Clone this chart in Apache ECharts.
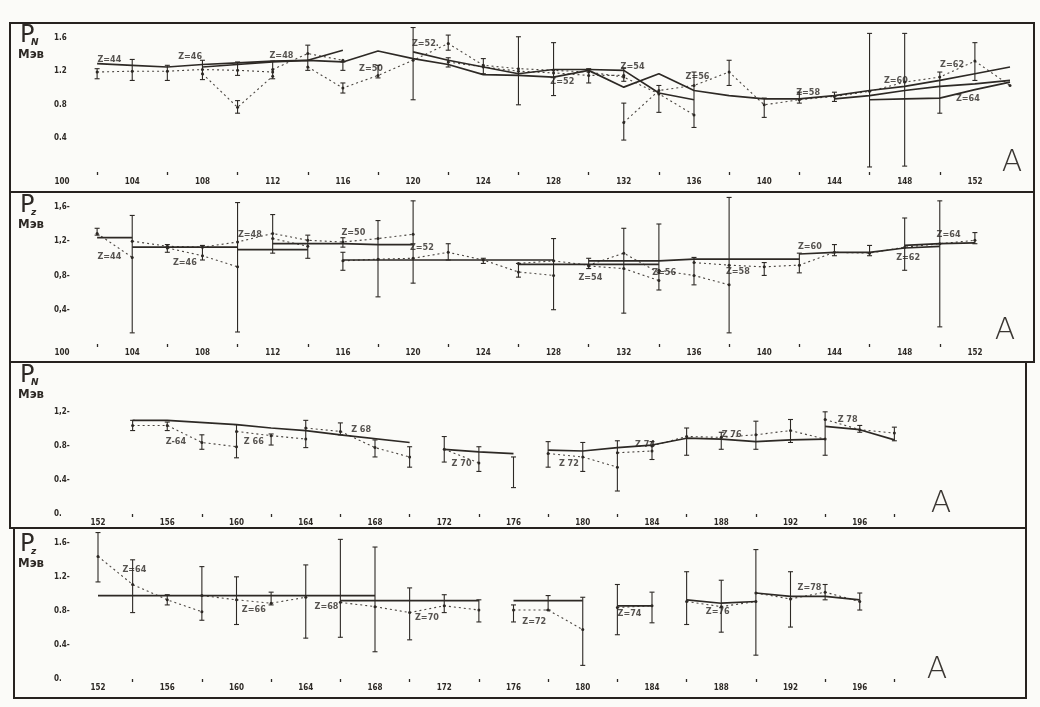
<!DOCTYPE html>
<html><head><meta charset="utf-8">
<script src="https://cdn.jsdelivr.net/npm/echarts@6/dist/echarts.min.js"></script>
<style>html,body{margin:0;padding:0;background:#fbfbf8}#c{width:1040px;height:707px}</style>
</head><body><div id="c"></div>
<script>
// ---------- tick labels ----------
const xTicksA = [100,104,108,112,116,120,124,128,132,136,140,144,148,152];
const xMinorA = [102,106,110,114,118,122,126,130,134,138,142,146,150];
const xTicksB = [152,156,160,164,168,172,176,180,184,188,192,196];
const xMinorB = [154,158,162,166,170,174,178,182,186,190,194,198];
const p1YTicks = [0.4,0.8,1.2,1.6], p1YLabels = ['0.4','0.8','1.2','1.6'];
const p2YTicks = [0.4,0.8,1.2,1.6], p2YLabels = ['0,4-','0,8-','1,2-','1,6-'];
const p3YTicks = [0,0.4,0.8,1.2],   p3YLabels = ['0.','0.4-','0.8-','1,2-'];
const p4YTicks = [0,0.4,0.8,1.2,1.6], p4YLabels = ['0.','0.4-','0.8-','1.2-','1.6-'];

// ---------- panel 1 (P_N, Z = 44..64) ----------
const p1Solid = [
  [[102,1.29],[104,1.27],[106,1.25],[108,1.28],[110,1.30],[112,1.32],[114,1.33],[116,1.45]],
  [[108,1.25],[110,1.28],[112,1.31],[114,1.33],[116,1.31],[118,1.44],[120,1.35],[122,1.28],[124,1.16],[126,1.15],[128,1.13],[130,1.21],[132,1.01],[134,1.17],[136,0.97],[138,0.91],[140,0.87],[142,0.87],[144,0.91],[146,0.97],[148,1.02],[150,1.09],[152,1.17],[154,1.25]],
  [[120,1.43],[122,1.33],[124,1.25],[126,1.17],[128,1.22],[130,1.22],[132,1.21],[134,0.94],[136,0.86]],
  [[144,0.87],[146,0.91],[148,0.97],[150,1.02],[152,1.05],[154,1.09]],
  [[146,0.86],[148,0.87],[150,0.88],[152,0.98],[154,1.07]]
];
const p1Dashed = [
  [[102,1.19],[104,1.20],[106,1.20],[108,1.22],[110,1.21],[112,1.19]],
  [[108,1.17],[110,0.77],[112,1.14]],
  [[112,1.22],[114,1.41],[116,1.33]],
  [[114,1.25],[116,1.00],[118,1.15],[120,1.33],[122,1.53],[124,1.27],[126,1.23],[128,1.21],[130,1.19],[132,1.13],[134,0.93],[136,0.68]],
  [[122,1.31],[124,1.25],[126,1.20],[128,1.18],[130,1.15],[132,1.15]],
  [[132,0.59],[134,0.97],[136,1.03],[138,1.19],[140,0.80],[142,0.86],[144,0.90],[146,0.96],[148,1.07],[150,1.13],[152,1.32],[154,1.03]]
];
const p1Err = [
  [102,1.11,1.23],[104,1.09,1.34],[106,1.09,1.27],[108,1.10,1.33],[110,0.70,0.85],[110,1.15,1.31],
  [112,1.11,1.32],[114,1.21,1.51],[116,0.94,1.06],[116,1.21,1.31],[118,1.12,1.27],[120,0.86,1.72],
  [122,1.45,1.63],[122,1.25,1.36],[124,1.17,1.35],[126,0.80,1.61],[128,0.91,1.54],[130,1.06,1.23],
  [132,0.38,0.82],[132,1.08,1.24],[134,0.71,1.03],[136,0.53,1.19],[138,1.03,1.33],[140,0.65,0.88],
  [142,0.82,0.95],[144,0.84,0.95],[146,0.06,1.65],[148,0.07,1.65],[150,0.70,1.19],[152,1.09,1.54]
];
const p1Notes = [
  [102.7,1.34,'Z=44'],[107.3,1.37,'Z=46'],[112.5,1.38,'Z=48'],[117.6,1.23,'Z=50'],[120.7,1.53,'Z=52.'],
  [128.5,1.07,'Z=52'],[132.5,1.25,'Z=54'],[136.2,1.14,'Z=56'],[142.5,0.95,'Z=58'],[147.5,1.09,'Z=60'],
  [150.7,1.28,'Z=62'],[151.6,0.87,'Z=64']
];

// ---------- panel 2 (P_z, Z = 44..64) ----------
const p2Solid = [
  [[102,1.24],[104,1.24]],
  [[104,1.13],[106,1.13],[108,1.13],[110,1.13]],
  [[110,1.10],[112,1.10],[114,1.10]],
  [[112,1.17],[114,1.17],[116,1.17],[118,1.16],[120,1.16]],
  [[116,0.98],[118,0.98],[120,0.98],[122,0.98],[124,0.98],[126,0.98],[128,0.98]],
  [[126,0.93],[128,0.93],[130,0.93],[132,0.93],[134,0.93]],
  [[130,0.97],[132,0.97],[134,0.97],[136,0.99],[138,0.99],[140,0.99],[142,0.99]],
  [[142,1.05],[144,1.07],[146,1.07],[148,1.12],[150,1.14]],
  [[148,1.15],[150,1.17],[152,1.18]]
];
const p2Dashed = [
  [[102,1.29],[104,1.01]],
  [[104,1.20],[106,1.14],[108,1.13],[110,1.19],[112,1.29],[114,1.21],[116,1.19],[118,1.23],[120,1.28]],
  [[106,1.12],[108,1.03],[110,0.90]],
  [[112,1.23],[114,1.14]],
  [[116,0.97],[118,0.99],[120,1.00],[122,1.07],[124,0.98],[126,0.84],[128,0.80]],
  [[126,0.94],[128,0.97],[130,0.92],[132,1.06],[134,0.83]],
  [[130,0.91],[132,0.88],[134,0.74]],
  [[134,0.86],[136,0.80],[138,0.69]],
  [[136,0.95],[138,0.92],[140,0.90],[142,0.92],[144,1.07],[146,1.06],[148,1.13],[150,1.17],[152,1.21]]
];
const p2Err = [
  [102,1.27,1.35],[104,0.13,1.50],[106,1.07,1.16],[108,0.98,1.15],[110,0.14,1.65],[112,1.06,1.51],
  [114,1.00,1.27],[116,1.13,1.24],[116,0.86,1.07],[118,0.55,1.44],[120,0.71,1.67],[122,0.98,1.17],
  [124,0.94,1.00],[126,0.78,0.94],[128,0.40,1.23],[130,0.88,1.00],[132,0.36,1.35],[134,0.63,1.40],
  [136,0.69,1.01],[138,0.13,1.71],[140,0.80,0.95],[142,0.83,1.06],[144,1.03,1.16],[146,1.03,1.15],
  [148,0.86,1.47],[150,0.20,1.67],[152,1.17,1.30]
];
const p2Notes = [
  [102.7,1.02,'Z=44'],[107.0,0.95,'Z=46'],[110.7,1.28,'Z=48'],[116.6,1.30,'Z=50'],[120.5,1.12,'Z=52'],
  [130.1,0.77,'Z=54'],[134.3,0.83,'Z=56'],[138.5,0.84,'Z=58'],[142.6,1.13,'Z=60'],[148.2,1.01,'Z=62'],
  [150.5,1.28,'Z=64']
];

// ---------- panel 3 (P_N, Z = 64..78) ----------
const p3Solid = [
  [[154,1.10],[156,1.10],[160,1.05],[162,1.01],[164,0.98],[166,0.93],[170,0.84]],
  [[172,0.76],[174,0.73],[176,0.71]],
  [[178,0.75],[180,0.74],[182,0.78],[184,0.81],[186,0.89],[188,0.88],[190,0.85],[192,0.87],[194,0.88]],
  [[194,1.03],[196,0.99],[198,0.87]]
];
const p3Dashed = [
  [[154,1.04],[156,1.04],[158,0.84],[160,0.79]],
  [[160,0.97],[162,0.92],[164,0.88]],
  [[164,1.01],[166,0.97],[168,0.78],[170,0.67]],
  [[172,0.76],[174,0.60]],
  [[178,0.71],[180,0.67],[182,0.55]],
  [[182,0.72],[184,0.74]],
  [[184,0.80],[186,0.91],[188,0.90],[190,0.93],[192,0.98],[194,0.88]],
  [[194,1.11],[196,0.99],[198,0.95]]
];
const p3Err = [
  [154,0.98,1.10],[156,0.98,1.08],[158,0.76,0.93],[160,0.66,1.05],[162,0.81,0.94],[164,0.78,1.10],
  [166,0.93,1.07],[168,0.67,0.87],[170,0.55,0.79],[172,0.61,0.91],[174,0.50,0.79],[176,0.31,0.67],
  [178,0.55,0.85],[180,0.50,0.84],[182,0.27,0.86],[184,0.64,0.85],[186,0.69,1.01],[188,0.76,0.96],
  [190,0.76,1.09],[192,0.84,1.11],[194,0.69,1.20],[196,0.96,1.04],[198,0.86,1.02]
];
const p3Notes = [
  [156.5,0.85,'Z-64'],[161.0,0.85,'Z 66'],[167.2,0.99,'Z 68'],[173.0,0.59,'Z 70'],
  [179.2,0.59,'Z 72'],[183.6,0.82,'Z 74'],[188.6,0.93,'Z 76'],[195.3,1.11,'Z 78']
];

// ---------- panel 4 (P_z, Z = 64..78) ----------
const p4Solid = [
  [[152,0.98],[156,0.98],[160,0.98],[164,0.98],[168,0.98]],
  [[166,0.92],[170,0.92],[174,0.92]],
  [[176,0.92],[178,0.92],[180,0.92]],
  [[182,0.86],[184,0.86]],
  [[186,0.93],[188,0.89],[190,0.91]],
  [[190,1.01],[192,0.97],[194,0.97],[196,0.93]]
];
const p4Dashed = [
  [[152,1.44],[154,1.11],[156,0.93],[158,0.79]],
  [[158,0.98],[160,0.93],[162,0.89],[164,0.96]],
  [[166,0.90],[168,0.85],[170,0.78],[172,0.86],[174,0.81]],
  [[176,0.81],[178,0.81],[180,0.58]],
  [[182,0.84],[184,0.86]],
  [[186,0.91],[188,0.85],[190,0.91]],
  [[190,1.01],[192,0.94],[194,1.02],[196,0.91]]
];
const p4Err = [
  [152,1.14,1.72],[154,0.78,1.40],[156,0.87,0.99],[158,0.69,1.32],[160,0.64,1.20],[162,0.87,1.02],
  [164,0.48,1.34],[166,0.49,1.64],[168,0.32,1.55],[170,0.46,1.07],[172,0.78,0.99],[174,0.67,0.93],
  [176,0.67,0.87],[178,0.81,0.98],[180,0.16,0.96],[182,0.52,1.11],[184,0.66,1.02],[186,0.64,1.26],
  [188,0.55,1.16],[190,0.28,1.52],[192,0.61,1.26],[194,0.93,1.11],[196,0.81,1.01]
];
const p4Notes = [
  [154.1,1.28,'Z=64'],[161.0,0.81,'Z=66'],[165.2,0.85,'Z=68'],[171.0,0.72,'Z=70'],
  [177.2,0.67,'Z=72'],[182.7,0.77,'Z=74'],[187.8,0.79,'Z=76'],[193.1,1.07,'Z=78']
];

// ---------- layout / style ----------
const INK = '#2d2925';
const panels = [
  {solid:p1Solid, dashed:p1Dashed, err:p1Err, notes:p1Notes, xt:xTicksA, xm:xMinorA, yt:p1YTicks, yl:p1YLabels,
   xMin:100, xMax:154, grid:{left:62,right:30,top:25,bottom:535}, ym:8, xmg:6},
  {solid:p2Solid, dashed:p2Dashed, err:p2Err, notes:p2Notes, xt:xTicksA, xm:xMinorA, yt:p2YTicks, yl:p2YLabels,
   xMin:100, xMax:154, grid:{left:62,right:30,top:194,bottom:363}, ym:8, xmg:5},
  {solid:p3Solid, dashed:p3Dashed, err:p3Err, notes:p3Notes, xt:xTicksB, xm:xMinorB, yt:p3YTicks, yl:p3YLabels,
   xMin:152, xMax:200, grid:{left:98,right:111,top:365,bottom:193}, ym:44, xmg:5},
  {solid:p4Solid, dashed:p4Dashed, err:p4Err, notes:p4Notes, xt:xTicksB, xm:xMinorB, yt:p4YTicks, yl:p4YLabels,
   xMin:152, xMax:200, grid:{left:98,right:111,top:530,bottom:28}, ym:44, xmg:5}
];

const grids = [], xAxes = [], yAxes = [], series = [];
panels.forEach((p, i) => {
  grids.push(Object.assign({containLabel:false}, p.grid));
  xAxes.push({
    type:'value', gridIndex:i, min:p.xMin, max:p.xMax,
    axisLine:{show:false}, splitLine:{show:false},
    axisTick:{show:true, customValues:p.xm, length:3, inside:false, lineStyle:{color:INK, width:1.3}},
    axisLabel:{customValues:p.xt, margin:p.xmg, fontSize:8, fontWeight:'bold',
      fontFamily:'DejaVu Sans Condensed, DejaVu Sans', color:INK, formatter:v => String(Math.round(v))}
  });
  yAxes.push({
    type:'value', gridIndex:i, min:0, max:1.75,
    axisLine:{show:false}, splitLine:{show:false}, axisTick:{show:false},
    axisLabel:{customValues:p.yt, align:'left', margin:p.ym, fontSize:8, fontWeight:'bold',
      fontFamily:'DejaVu Sans Condensed, DejaVu Sans', color:INK,
      formatter:v => { const k = p.yt.findIndex(t => Math.abs(t - v) < 1e-6); return k >= 0 ? p.yl[k] : ''; }}
  });
  p.solid.forEach(line => series.push({
    type:'line', xAxisIndex:i, yAxisIndex:i, data:line, symbol:'none', silent:true,
    lineStyle:{color:INK, width:1.7}, z:3
  }));
  p.dashed.forEach(line => series.push({
    type:'line', xAxisIndex:i, yAxisIndex:i, data:line, symbol:'circle', symbolSize:3, silent:true,
    itemStyle:{color:INK}, lineStyle:{color:'#4a4540', width:1.1, type:[2,3]}, z:2
  }));
  series.push({
    type:'custom', xAxisIndex:i, yAxisIndex:i, data:p.err, silent:true, z:4,
    encode:{x:0, y:[1,2]},
    renderItem:(params, api) => {
      const x = api.value(0), lo = api.value(1), hi = api.value(2);
      const a = api.coord([x, hi]), b = api.coord([x, lo]);
      const w = 2.5, st = {stroke:INK, lineWidth:1.1};
      return {type:'group', children:[
        {type:'line', shape:{x1:a[0], y1:a[1], x2:b[0], y2:b[1]}, style:st},
        {type:'line', shape:{x1:a[0]-w, y1:a[1], x2:a[0]+w, y2:a[1]}, style:st},
        {type:'line', shape:{x1:b[0]-w, y1:b[1], x2:b[0]+w, y2:b[1]}, style:st}
      ]};
    }
  });
  series.push({
    type:'scatter', xAxisIndex:i, yAxisIndex:i, data:p.notes, symbolSize:0, silent:true, z:5,
    label:{show:true, position:'inside', formatter:q => q.data[2], fontSize:9, fontWeight:'bold',
      fontFamily:'DejaVu Sans Condensed, DejaVu Sans', color:INK}
  });
});

// panel frames, symbols and the letter A
const frames = [
  [10,23,1024,169],[10,192,1024,170],[10,362,1016,166],[14,528,1012,170]
];
const heads = [
  {y:24, sub:'N'}, {y:194, sub:'z'}, {y:364, sub:'N'}, {y:533, sub:'z'}
];
const letterA = [[1012,163],[1005,331],[941,504],[937,670]];
const graphic = [];
frames.forEach(f => graphic.push({type:'rect', shape:{x:f[0], y:f[1], width:f[2], height:f[3]},
  style:{fill:'none', stroke:'#26221f', lineWidth:2}, silent:true}));
heads.forEach(h => {
  graphic.push({type:'text', x:20, y:h.y, style:{text:'P', fontSize:24, fontFamily:'DejaVu Sans', fill:INK, textVerticalAlign:'top'}});
  graphic.push({type:'text', x:31, y:h.y+14, style:{text:h.sub, fontSize:9, fontStyle:'italic', fontWeight:'bold', fontFamily:'DejaVu Sans', fill:INK, textVerticalAlign:'top'}});
  graphic.push({type:'text', x:18, y:h.y+24, style:{text:'Мэв', fontSize:13, fontWeight:'bold', fontFamily:'DejaVu Sans Condensed, DejaVu Sans', fill:INK, textVerticalAlign:'top'}});
});
letterA.forEach(a => graphic.push({type:'text', x:a[0], y:a[1], style:{text:'A', fontSize:30, fontWeight:200,
  fontFamily:'DejaVu Sans', fill:'#3a3632', textAlign:'center', textVerticalAlign:'middle'}}));

const chart = echarts.init(document.getElementById('c'), null, {renderer:'canvas'});
chart.setOption({
  backgroundColor:'#fbfbf8', animation:false,
  grid:grids, xAxis:xAxes, yAxis:yAxes, series:series, graphic:graphic
});
</script></body></html>
